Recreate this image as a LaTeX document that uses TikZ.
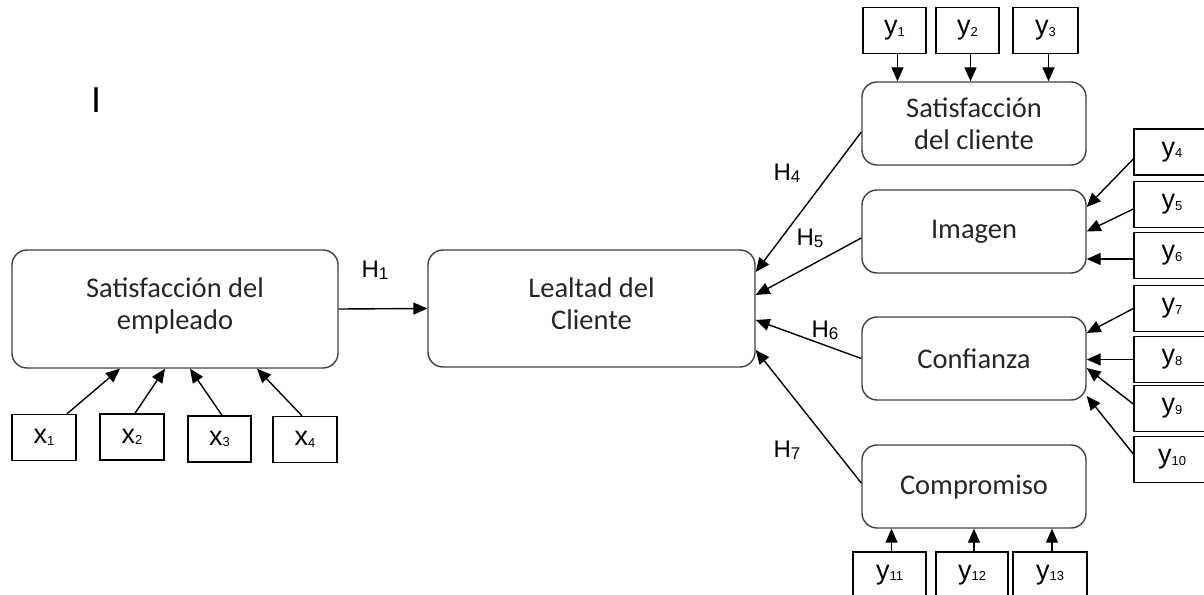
\documentclass[tikz,border=0pt]{standalone}
\usepackage{fontspec}
\setmainfont{Carlito}
\newfontfamily\arialfont{Liberation Sans}
\usetikzlibrary{arrows.meta}
\usetikzlibrary{positioning}

\newcommand{\lowix}[2]{#1\raisebox{-1.5pt}{\fontsize{13}{13}\selectfont #2}}
\newcommand{\hyp}[1]{H\raisebox{-2pt}{\fontsize{17}{17}\selectfont #1}}

\tikzset{
  constr/.style={draw=black!75, line width=1.4pt, rounded corners=15pt,
    align=center, inner sep=0pt, font=\fontsize{28.5}{32}\selectfont, text=black!85},
  cbox/.style={constr, minimum width=224pt, minimum height=83pt},
  ind/.style={draw, line width=1.4pt, inner sep=0pt, minimum height=46pt,
    font=\arialfont\fontsize{27}{27}\selectfont},
  hlab/.style={font=\arialfont\fontsize{24}{24}\selectfont},
  >={Triangle[length=14pt,width=12pt]},
}

\begin{document}
\begin{tikzpicture}[x=1pt, y=-1pt, line width=1.4pt]
\useasboundingbox (0,0) rectangle (1204,594);

% constructs
\node[constr, minimum width=326pt, minimum height=118pt] (emp) at (175,309) {Satisfacción del\\empleado\\[-22pt]\mbox{}};
\node[constr, minimum width=327pt, minimum height=117pt] (leal) at (591.5,308.5) {Lealtad del\\Cliente\\[-22pt]\mbox{}};
\node[cbox] (scli) at (974,123.5) {Satisfacción\\del cliente};
\node[cbox] (imag) at (974,231.5) {Imagen};
\node[cbox] (conf) at (974,358.5) {Confianza};
\node[cbox] (comp) at (974,486.5) {Compromiso};

\node (mark) at (96,100) {\arialfont\fontsize{36}{36}\selectfont I};

% indicators
\node[ind, minimum width=64pt] (x1) at (44,437.5) {\lowix{x}{1}};
\node[ind, minimum width=64pt] (x2) at (132,437) {\lowix{x}{2}};
\node[ind, minimum width=63pt] (x3) at (219.5,439) {\lowix{x}{3}};
\node[ind, minimum width=64pt] (x4) at (305,439.5) {\lowix{x}{4}};

\node[ind, minimum width=63pt] (y1) at (894.5,30.5) {\lowix{y}{1}};
\node[ind, minimum width=63pt] (y2) at (967.5,30.5) {\lowix{y}{2}};
\node[ind, minimum width=65pt] (y3) at (1045.5,30.5) {\lowix{y}{3}};

\foreach \i/\yy in {4/152,5/204.5,6/255.5,7/308.5,8/359.5,9/408.5,10/459.5}
  \node[ind, minimum width=76pt] (y\i) at (1172,\yy) {\lowix{y}{\i}};

\node[ind, minimum width=73pt] (y11) at (889.5,575) {\lowix{y}{11}};
\node[ind, minimum width=72pt] (y12) at (972,575) {\lowix{y}{12}};
\node[ind, minimum width=74pt] (y13) at (1050,575) {\lowix{y}{13}};

% hypotheses
\node[hlab] (h1) at (375,270) {\hyp{1}};
\node[hlab] (h4) at (787,173) {\hyp{4}};
\node[hlab] (h5) at (810,238) {\hyp{5}};
\node[hlab] (h6) at (825,330) {\hyp{6}};
\node[hlab] (h7) at (787,450) {\hyp{7}};

\draw[->] (emp.east) -- (leal.west);
\draw[->] ([yshift=-8.5pt]scli.west) -- ([yshift=36.5pt]leal.east);
\draw[->] ([yshift=-6.5pt]imag.west) -- ([yshift=13.5pt]leal.east);
\draw[->] (conf.west) -- ([yshift=-11.5pt]leal.east);
\draw[->] ([yshift=3.5pt]comp.west) -- ([yshift=-41.5pt]leal.east);

% x items
\draw[->] ([xshift=23pt]x1.north) -- ([xshift=-55pt]emp.south);
\draw[->] ([xshift=3pt]x2.north) -- ([xshift=-10pt]emp.south);
\draw[->] ([xshift=2.5pt]x3.north) -- ([xshift=15pt]emp.south);
\draw[->] ([xshift=-3pt]x4.north) -- ([xshift=82pt]emp.south);

% y items
\foreach \i in {1,2,3}
  \draw[->] ([xshift=3pt]y\i.south) -- ([xshift=3pt]y\i.south |- scli.north);
\foreach \i in {11,12,13}
  \draw[->] ([xshift=2pt]y\i.north) -- ([xshift=2pt]y\i.north |- comp.south);

\draw[->] ([yshift=-7pt]y4.west) -- ([yshift=24.5pt]imag.east);
\draw[->] ([yshift=-4.5pt]y5.west) -- (imag.east);
\draw[->] ([yshift=-3.5pt]y6.west) -- ([yshift=-3.5pt]y6.west -| imag.east);
\draw[->] (y7.west) -- ([yshift=25.5pt]conf.east);
\draw[->] (y8.west) -- (y8.west -| conf.east);
\draw[->] ([yshift=4.5pt]y9.west) -- ([yshift=-9.5pt]conf.east);
\draw[->] ([yshift=5.5pt]y10.west) -- ([yshift=-37.5pt]conf.east);
\end{tikzpicture}
\end{document}
